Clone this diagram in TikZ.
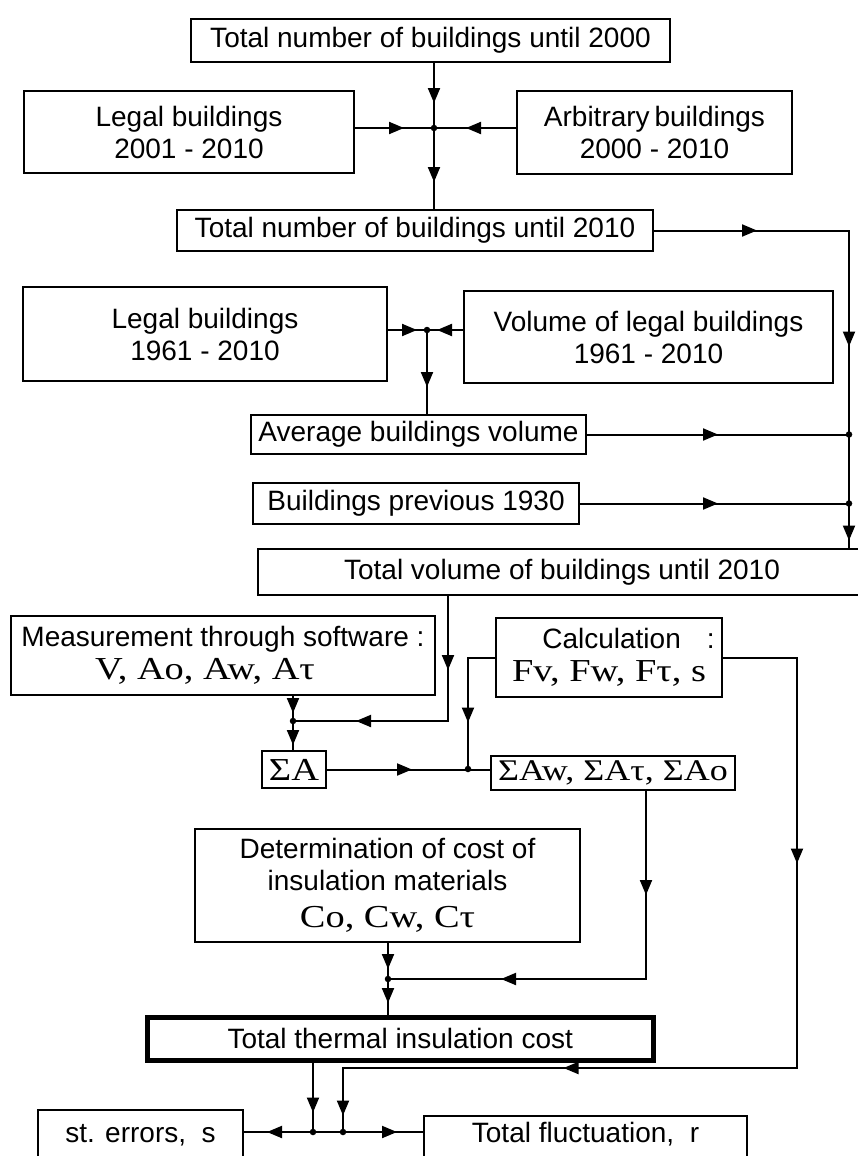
\documentclass[tikz,border=0pt]{standalone}
\usepackage{fontspec}
\setmainfont{Liberation Sans}
\newfontfamily\tnr[FakeStretch=1.2]{Liberation Serif}
\usetikzlibrary{arrows.meta,decorations.markings}
\newcommand\sz{\fontsize{28}{32}\selectfont}
\newcommand\msz{\tnr\fontsize{32}{36}\selectfont}
\begin{document}
\begin{tikzpicture}[x=1pt,y=-1pt,
  box/.style={draw, line width=2pt, inner sep=2pt, align=center, font=\sz, anchor=north west},
  ln/.style={draw, line width=2pt},
  ma/.style={postaction={decorate, decoration={markings, mark=at position #1 with {\arrow{Triangle[length=15pt,width=12pt]}}}}},
  jdot/.style={circle, fill, inner sep=0pt, minimum size=6.5pt}]
\useasboundingbox (0,0) rectangle (858,1156);
\clip (0,0) rectangle (858,1156);
\fill[white] (0,0) rectangle (858,1156);

% boxes
\node[box, minimum width=479pt, minimum height=43pt] (A) at (190,18) {Total number of buildings until 2000};
\node[box, minimum width=330pt, minimum height=82pt] (B) at (23,90) {Legal buildings\\2001 - 2010};
\node[box, minimum width=275pt, minimum height=83pt] (C) at (516,90) {Arbitrary\hspace{-3pt} buildings\\2000 - 2010};
\node[box, minimum width=476pt, minimum height=41pt] (D) at (176,209) {Total number of buildings until 2010};
\node[box, minimum width=364pt, minimum height=94pt] (E) at (22,286) {Legal buildings\\1961 - 2010};
\node[box, minimum width=369pt, minimum height=92pt] (F) at (463,290) {Volume of legal buildings\\1961 - 2010};
\node[box, minimum width=335pt, minimum height=39pt] (G) at (250,414) {Average buildings volume};
\node[box, minimum width=326pt, minimum height=41pt] (H) at (252,482) {Buildings previous 1930};
\node[box, minimum width=608pt, minimum height=46pt] (I) at (257,548) {Total volume of buildings until 2010};
\node[box, minimum width=424pt, minimum height=79pt] (J) at (10,615) {Measurement through software :\\[1pt]{\msz\hspace*{-36pt}V, Ao, Aw, Aτ}};
\node[box, minimum width=226pt, minimum height=79pt] (K) at (495,617) {\hspace*{39pt}Calculation\hspace{26pt}:\\[1pt]{\msz Fv, Fw, Fτ, s}};
\node[box, minimum width=64pt, minimum height=37pt, inner ysep=0pt, font=\msz] (L) at (261,750) {ΣA};
\node[box, minimum width=244pt, minimum height=34pt, inner ysep=0pt, font={\msz\fontsize{30}{34}\selectfont}] (M) at (490,755) {ΣAw, ΣAτ, ΣAo};
\node[box, minimum width=385pt, minimum height=113pt] (N) at (194,828) {Determination of cost of\\insulation materials\\[5pt]{\msz Co, Cw, Cτ}};
\node[box, line width=4.5pt, minimum width=506pt, minimum height=43pt] (O) at (145,1015) {Total thermal insulation cost};
\node[box, minimum width=205pt, text height=28pt, text depth=60pt, inner ysep=4pt] (P) at (37,1109) {st. errors,\ \ s};
\node[box, minimum width=323pt, text height=22pt, text depth=60pt, inner ysep=4pt] (Q) at (423,1115) {Total fluctuation,\ \ r};

% top junction
\coordinate (j1) at (434,128);
\draw[ln, ma=40pt] (j1 |- A.south) -- (j1);
\draw[ln, ma=54pt] (j1) -- (j1 |- D.north);
\draw[ln, ma=49pt] (B.east |- j1) -- (j1);
\draw[ln, ma=50pt] (C.west |- j1) -- (j1);
\node[jdot] (d1) at (j1) {};

% right collector
\coordinate (c1) at (849,229);
\draw[ln, ma=103pt, ma=311pt, ma=505pt] (D.east) -- (D.east -| c1) -- (c1 |- I.north);

% second junction
\coordinate (j2) at (427,330);
\draw[ln, ma=29pt] (E.east |- j2) -- (j2);
\draw[ln, ma=26pt] (F.west |- j2) -- (j2);
\draw[ln, ma=57pt] (j2) -- (j2 |- G.north);
\node[jdot] (d2) at (j2) {};
\draw[ln, ma=131pt] (G.east) -- (G.east -| c1);
\node[jdot] (d3) at (G.east -| c1) {};
\draw[ln, ma=138pt] (H.east) -- (H.east -| c1);
\node[jdot] (d4) at (H.east -| c1) {};

% to sum A
\coordinate (j3) at (293,721);
\coordinate (c2) at (448,721);
\draw[ln, ma=74pt, ma=217pt] (c2 |- I.south) -- (c2) -- (j3);
\draw[ln, ma=17pt] (j3 |- J.south) -- (j3);
\draw[ln, ma=24pt] (j3) -- (j3 |- L.north);
\node[jdot] (d5) at (j3) {};

\coordinate (j4) at (468,769);
\draw[ln, ma=85pt] (L.east) -- (L.east -| M.west);
\draw[ln, ma=92pt] (K.west) -- (K.west -| j4) -- (j4);
\node[jdot] (d6) at (j4) {};

% to total thermal
\coordinate (c3) at (646,979);
\coordinate (j5) at (388,979);
\draw[ln, ma=104pt, ma=333pt] (c3 |- M.south) -- (c3) -- (j5);
\draw[ln, ma=26pt] (j5 |- N.south) -- (j5);
\draw[ln, ma=24pt] (j5) -- (j5 |- O.north);
\node[jdot] (d7) at (j5) {};

% calculation to bottom
\coordinate (c4) at (797,1068);
\coordinate (c5) at (343,1068);
\coordinate (j7) at (343,1132);
\coordinate (j6) at (313,1132);
\draw[ln, ma=280pt, ma=718pt, ma=986pt] (K.east) -- (K.east -| c4) -- (c4) -- (c5) -- (j7);
\draw[ln, ma=50pt] (j6 |- O.south) -- (j6);
\draw[ln] (j6) -- (j7);
\draw[ln, ma=46pt] (j6) -- (j6 -| P.east);
\draw[ln, ma=54pt] (j7) -- (j7 -| Q.west);
\node[jdot] (d8) at (j6) {};
\node[jdot] (d9) at (j7) {};
\end{tikzpicture}
\end{document}
